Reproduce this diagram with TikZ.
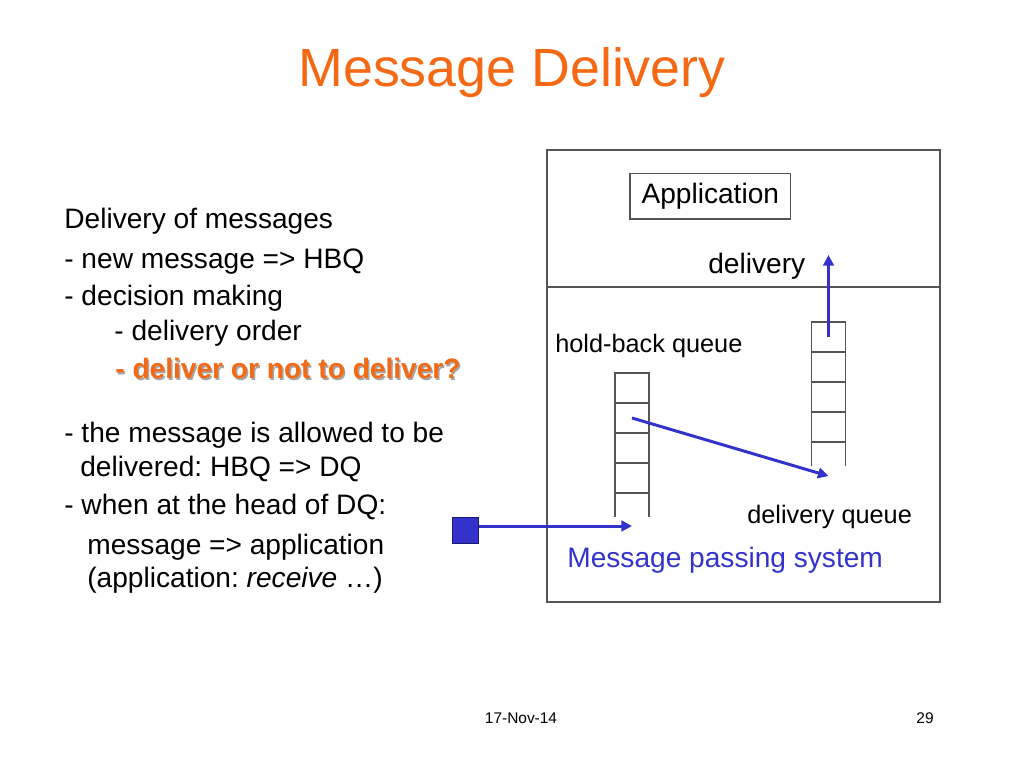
\documentclass[tikz,border=0pt]{standalone}
\usepackage{fontspec}
\setmainfont{Liberation Sans}
\usepackage{tikz}
\usetikzlibrary{arrows.meta, calc, positioning}
\definecolor{slideorange}{RGB}{245,105,20}
\definecolor{slideblue}{RGB}{51,51,204}
\definecolor{slidenavy}{RGB}{25,25,110}
\definecolor{slidegrey}{RGB}{85,85,85}
\frenchspacing

\begin{document}
\begin{tikzpicture}[
x=0.02cm, y=-0.02cm,
texts/.style = {text=black, inner sep=0, anchor=base west},
bodytexts/.style = {texts, font=\fontsize{16}{19}\selectfont},
hottexts/.style = {bodytexts, text=slideorange, font=\fontsize{16}{19}\selectfont\bfseries},
shadowtexts/.style = {hottexts, text=black!35},
titletexts/.style = {text=slideorange, inner sep=0, anchor=base, font=\fontsize{30.6}{34}\selectfont},
labeltexts/.style = {texts, font=\fontsize{14.4}{17}\selectfont},
systexts/.style = {bodytexts, text=slideblue},
foottexts/.style = {text=black, inner sep=0, anchor=base, font=\fontsize{8.8}{10}\selectfont},
frame/.style = {draw=slidegrey, line width=0.7pt},
appbox/.style = {bodytexts, anchor=center, frame, minimum width=3.21cm, minimum height=0.91cm},
cell/.style = {draw=slidegrey, line width=0.6pt, rectangle, minimum width=0.68cm, minimum height=0.6cm, inner sep=0, outer sep=0},
flow/.style = {draw=slideblue, line width=1.7pt, -{Triangle[length=6pt, width=6pt]}},
msg/.style = {draw=slidenavy, fill=slideblue, line width=0.6pt, minimum width=0.52cm, minimum height=0.51cm, inner sep=0}
]
\useasboundingbox (0,0) rectangle (1024,768);

\node[titletexts] (title) at (512,86) {Message Delivery};

% left column
\node[bodytexts] (l1) at (64,228) {Delivery of messages};
\node[bodytexts] (l2) at (64,268) {- new message => HBQ};
\node[bodytexts] (l3) at (64,305) {- decision making};
\node[bodytexts] (l4) at (114,340) {- delivery order};
\node[shadowtexts] (l5s) at (116.5,380.5) {- deliver or not to deliver?};
\node[hottexts] (l5) at (115,378) {- deliver or not to deliver?};
\node[bodytexts] (l6) at (64,442) {- the message is allowed to be};
\node[bodytexts] (l7) at (80,476) {delivered: HBQ => DQ};
\node[bodytexts] (l8) at (64,514) {- when at the head of DQ:};
\node[bodytexts] (l9) at (87,554) {message => application};
\node[bodytexts] (l10) at (87,587) {(application: \textit{receive} …)};

% message passing system
\coordinate (mpsnw) at (547,150);
\coordinate (mpsse) at (940,602);
\draw[frame] (mpsnw) rectangle (mpsse);
\draw[frame] (mpsnw |- 0,287) -- (mpsse |- 0,287);
\node[appbox] (app) at (710.3,196.2) {Application};
\node[bodytexts] (deliv) at (708,273) {delivery};
\node[labeltexts] (hbqlabel) at (555,352) {hold-back queue};
\node[labeltexts] (dqlabel) at (747,523) {delivery queue};
\node[systexts] (mps) at (567,567) {Message passing system};

% queues
\node[cell] (hbq1) at (632,388) {};
\node[cell] (dq1) at (828.5,337) {};
\foreach \i/\j in {2/1,3/2,4/3} {
	\node[cell, below=0pt of hbq\j] (hbq\i) {};
	\node[cell, below=0pt of dq\j] (dq\i) {};
}
\draw[draw=slidegrey, line width=0.6pt] (hbq4.south west) -- ++(0,24) (hbq4.south east) -- ++(0,24);
\draw[draw=slidegrey, line width=0.6pt] (dq4.south west) -- ++(0,24) (dq4.south east) -- ++(0,24);

\coordinate (hbqin) at (632,526);
\coordinate (dqin) at (828.5,476);
\coordinate (appin) at (828.5,255);
\node[msg] (msg) at (465.7,530.5) {};
\draw[flow] (msg.east |- hbqin) -- (hbqin);
\draw[flow] (hbq2.center) -- (dqin);
\draw[flow] (dq1.center) -- (appin);

\node[foottexts] (date) at (521,723) {17-Nov-14};
\node[foottexts] (page) at (925,723) {29};
\end{tikzpicture}
\end{document}
